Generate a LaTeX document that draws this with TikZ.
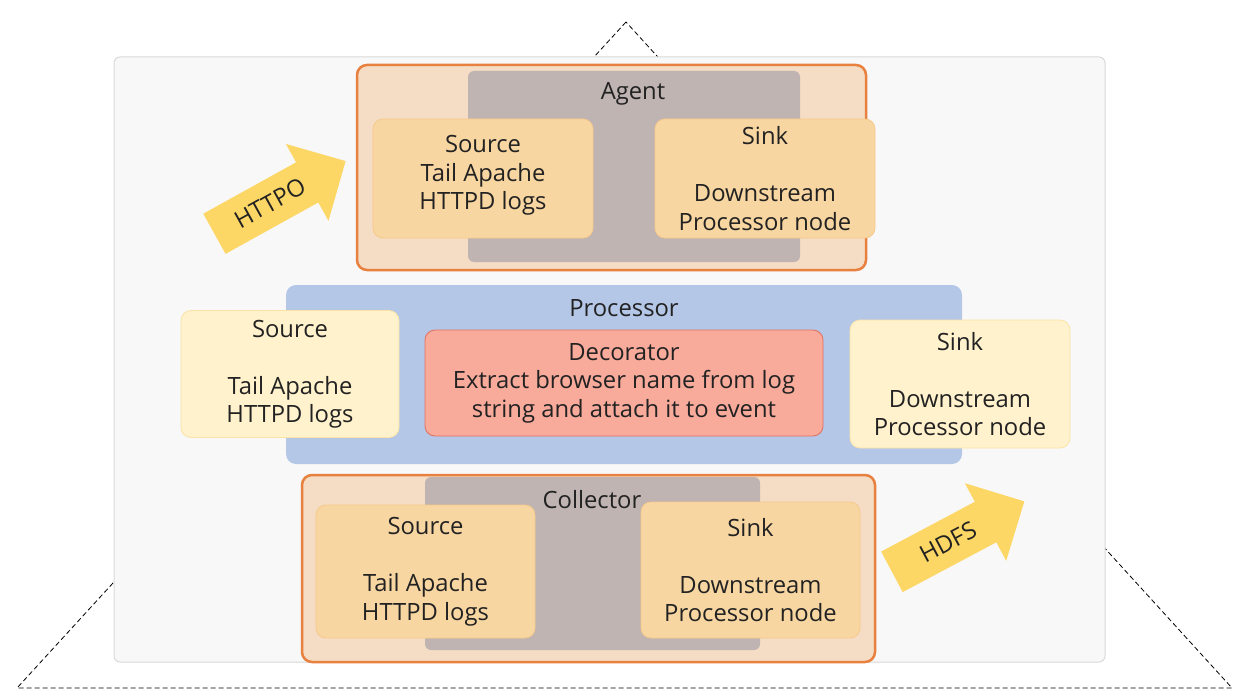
\documentclass[tikz,border=0pt]{standalone}
\usepackage{fontspec}
\setmainfont{Open Sans}
\usetikzlibrary{shapes.arrows}

\definecolor{framefill}{HTML}{F8F8F8}
\definecolor{framedraw}{HTML}{D9D9D9}
\definecolor{hostfill}{HTML}{F4DDC4}
\definecolor{hostdraw}{HTML}{E8803F}
\definecolor{corefill}{HTML}{BFB4B2}
\definecolor{partfill}{HTML}{F8D6A2}
\definecolor{partdraw}{HTML}{F6C98A}
\definecolor{procfill}{HTML}{B4C7E7}
\definecolor{palefill}{HTML}{FFF2CC}
\definecolor{paledraw}{HTML}{FBE3A6}
\definecolor{decofill}{HTML}{F8AA9B}
\definecolor{decodraw}{HTML}{E0705E}
\definecolor{flowfill}{HTML}{FDD765}
\definecolor{txtcol}{HTML}{222222}

\begin{document}
\begin{tikzpicture}[x=1pt,y=-1pt]
\useasboundingbox (0,0) rectangle (1244,695);
\tikzset{every node/.style={font=\fontsize{23.8}{28.5}\selectfont, text=txtcol, align=center, inner sep=0pt},
         box/.style={rectangle, rounded corners=10pt},
         host/.style={box, fill=hostfill, draw=hostdraw, line width=2.5pt},
         core/.style={box, fill=corefill, rounded corners=6pt},
         part/.style={box, fill=partfill, draw=partdraw, line width=0.8pt},
         pale/.style={box, fill=palefill, draw=paledraw, line width=0.8pt},
         flow/.style={single arrow, fill=flowfill, minimum width=86pt,
                      single arrow head extend=21pt, inner ysep=14pt},
         }
%==========================================
% dashed triangle behind the frame
\coordinate (apex) at (626,22);
\coordinate (baseL) at (17,688);
\coordinate (baseR) at (1232,688);
\draw[dash pattern=on 5pt off 3pt, line width=0.8pt] (apex) -- (baseL) -- (baseR) -- cycle;
\node[box, rounded corners=6pt, fill=framefill, draw=framedraw, line width=1pt,
      minimum width=991pt, minimum height=605pt] (frame) at (609.5,359.5) {};
%==========================================
% agent
\node[host, minimum width=509pt, minimum height=205pt] (agent) at (611.5,167.5) {};
\node[core, minimum width=332pt, minimum height=191pt] (agentcore) at (634,166.5) {};
\node (agentlbl) at (633,94) {Agent};
\node[part, minimum width=220pt, minimum height=119pt] (agentsrc) at (483,178.5)
     {Source\\Tail Apache\\HTTPD logs\\[-17pt]};
\node[part, minimum width=220pt, minimum height=119pt] (agentsink) at (765,178.5)
     {Sink\\[\baselineskip]Downstream\\Processor node};
%==========================================
% processor
\node[box, fill=procfill, minimum width=676pt, minimum height=179pt] (proc) at (624,374.5) {};
\node (proclbl) at (624,308) {Processor};
\node[pale, minimum width=218pt, minimum height=127pt] (procsrc) at (290,374)
     {Source\\[\baselineskip]Tail Apache\\HTTPD logs};
\node[box, fill=decofill, draw=decodraw, line width=0.8pt,
      minimum width=398pt, minimum height=106pt] (deco) at (624,383)
     {Decorator\\Extract browser name from log\\string and attach it to event};
\node[pale, minimum width=220pt, minimum height=128pt] (procsink) at (960,384)
     {Sink\\[\baselineskip]Downstream\\Processor node};
%==========================================
% collector
\node[host, minimum width=573pt, minimum height=187pt] (coll) at (588.5,568.5) {};
\node[core, minimum width=335pt, minimum height=173pt] (collcore) at (592.5,563.5) {};
\node (colllbl) at (592,500) {Collector};
\node[part, minimum width=219pt, minimum height=133pt] (collsrc) at (425.5,571.5)
     {Source\\[\baselineskip]Tail Apache\\HTTPD logs};
\node[part, minimum width=219pt, minimum height=136pt] (collsink) at (750.5,570)
     {Sink\\[\baselineskip]Downstream\\Processor node};
%==========================================
% in and out
\node[flow, minimum height=150pt, rotate=29] (httpo) at (270,203) {HTTPO};
\node[flow, minimum height=150pt, rotate=28] (hdfs) at (948,542) {HDFS};
\end{tikzpicture}
\end{document}
